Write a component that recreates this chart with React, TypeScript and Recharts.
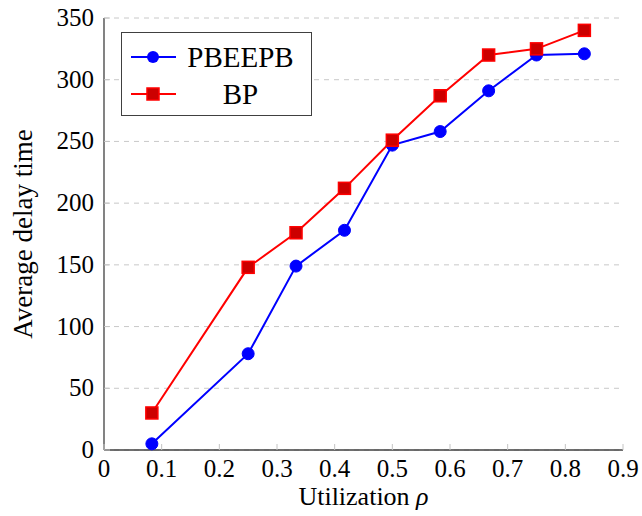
import React from 'react';
import { LineChart, Line, XAxis, YAxis, CartesianGrid, Legend } from 'recharts';

// Utilization values and average delay for each scheme
const utilization = [0.083, 0.25, 0.333, 0.417, 0.5, 0.583, 0.667, 0.75, 0.833];
const pbeepbDelay = [5, 78, 149, 178, 247, 258, 291, 320, 321];
const bpDelay = [30, 148, 176, 212, 251, 287, 320, 325, 340];
const xTicks = [0, 0.1, 0.2, 0.3, 0.4, 0.5, 0.6, 0.7, 0.8, 0.9];
const yTicks = [0, 50, 100, 150, 200, 250, 300, 350];
const seriesNames = ['PBEEPB', 'BP'];

const data = utilization.map((u, i) => ({ id: `pt-${i}`, u, pbeepb: pbeepbDelay[i], bp: bpDelay[i] }));

const FONT = 'Liberation Serif, Times New Roman, DejaVu Serif, serif';
const TICK_COLOR = '#c4c4c4';
const FRAME = '#404040';

const BottomTick = (props: any) => {
  const { x, y, payload } = props;
  return (
    <g>
      <line x1={x} y1={y} x2={x} y2={y - 6} stroke={TICK_COLOR} strokeWidth={1} />
      <text x={x} y={y + 27} textAnchor="middle" style={{ fontFamily: FONT, fontSize: 25 }} fill="#000">
        {payload.value}
      </text>
    </g>
  );
};

const LeftTick = (props: any) => {
  const { x, y, payload } = props;
  return (
    <g>
      <line x1={x} y1={y} x2={x + 6} y2={y} stroke={TICK_COLOR} strokeWidth={1} />
      <text x={x - 10} y={y + 8} textAnchor="end" style={{ fontFamily: FONT, fontSize: 25 }} fill="#000">
        {payload.value}
      </text>
    </g>
  );
};

const TopTick = (props: any) => {
  const { x, y } = props;
  return <line x1={x} y1={y} x2={x} y2={y + 6} stroke={TICK_COLOR} strokeWidth={1} />;
};

const RightTick = (props: any) => {
  const { x, y } = props;
  return <line x1={x} y1={y} x2={x - 6} y2={y} stroke={TICK_COLOR} strokeWidth={1} />;
};

const XLabel = (props: any) => {
  const { viewBox } = props;
  const cx = viewBox.x + viewBox.width / 2;
  return (
    <text x={cx} y={viewBox.y + 55} textAnchor="middle" style={{ fontFamily: FONT, fontSize: 26 }} fill="#000">
      Utilization <tspan fontStyle="italic">ρ</tspan>
    </text>
  );
};

const YLabel = (props: any) => {
  const { viewBox } = props;
  const x = viewBox.x + 32;
  const cy = viewBox.y + viewBox.height / 2;
  return (
    <text
      x={x}
      y={cy}
      transform={`rotate(-90 ${x} ${cy})`}
      textAnchor="middle"
      style={{ fontFamily: FONT, fontSize: 27 }}
      fill="#000"
    >
      Average delay time
    </text>
  );
};

const Circle = (props: any) => {
  const { cx, cy } = props;
  return <circle cx={cx} cy={cy} r={6} fill="#0000ff" stroke="#0000ff" strokeWidth={1} />;
};

const Square = (props: any) => {
  const { cx, cy } = props;
  return <rect x={cx - 6} y={cy - 6} width={12} height={12} fill="#cc0000" stroke="#ff0000" strokeWidth={1.5} />;
};

const LegendBox = () => (
  <div
    style={{
      width: 191,
      height: 84,
      boxSizing: 'border-box',
      border: `1px solid ${FRAME}`,
      background: '#fff',
      padding: '5px 0 0 8px',
      fontFamily: FONT,
      fontSize: 29,
      color: '#000',
    }}
  >
    {seriesNames.map((name, i) => (
      <div key={name} style={{ display: 'flex', alignItems: 'center', height: 37 }}>
        <svg width={48} height={20}>
          <line x1={1} y1={10} x2={46} y2={10} stroke={i === 0 ? '#0000ff' : '#ff0000'} strokeWidth={2} />
          {i === 0 ? (
            <circle cx={23} cy={10} r={6} fill="#0000ff" />
          ) : (
            <rect x={17} y={4} width={12} height={12} fill="#cc0000" stroke="#ff0000" strokeWidth={1.5} />
          )}
        </svg>
        <span style={{ width: 125, textAlign: 'center', lineHeight: '30px' }}>{name}</span>
      </div>
    ))}
  </div>
);

export default function App() {
  return (
    <div style={{ position: 'absolute', left: 0, top: 0, width: 642, height: 516, background: '#fff' }}>
      <LineChart width={642} height={516} data={data} margin={{ top: 18, right: 19, bottom: 0, left: 0 }}>
        <CartesianGrid horizontal vertical={false} stroke="#c8c8c8" strokeDasharray="5 5" />
        <XAxis
          dataKey="u"
          type="number"
          domain={[0, 0.9]}
          ticks={xTicks}
          height={66}
          tickSize={0}
          tickMargin={0}
          tickLine={false}
          axisLine={{ stroke: FRAME, strokeWidth: 1.3 }}
          tick={BottomTick}
          interval={0}
          label={<XLabel />}
        />
        <XAxis
          xAxisId="top"
          dataKey="u"
          type="number"
          orientation="top"
          domain={[0, 0.9]}
          ticks={xTicks}
          height={0}
          tickSize={0}
          tickMargin={0}
          tickLine={false}
          axisLine={{ stroke: FRAME, strokeWidth: 1.3 }}
          tick={TopTick}
          interval={0}
        />
        <YAxis
          type="number"
          domain={[0, 350]}
          ticks={yTicks}
          width={104}
          tickSize={0}
          tickMargin={0}
          tickLine={false}
          axisLine={{ stroke: FRAME, strokeWidth: 1.3 }}
          tick={LeftTick}
          interval={0}
          label={<YLabel />}
        />
        <YAxis
          yAxisId="right"
          type="number"
          orientation="right"
          domain={[0, 350]}
          ticks={yTicks}
          width={0}
          tickSize={0}
          tickMargin={0}
          tickLine={false}
          axisLine={{ stroke: FRAME, strokeWidth: 1.3 }}
          tick={RightTick}
          interval={0}
        />
        <Legend
          layout="vertical"
          align="center"
          verticalAlign="middle"
          content={LegendBox}
          wrapperStyle={{ position: 'absolute', left: 121, top: 32, width: 191, height: 84 }}
        />
        <Line
          type="linear"
          dataKey="pbeepb"
          name="PBEEPB"
          stroke="#0000ff"
          strokeWidth={2}
          dot={Circle}
          activeDot={false}
          isAnimationActive={false}
        />
        <Line
          type="linear"
          dataKey="bp"
          name="BP"
          stroke="#ff0000"
          strokeWidth={2}
          dot={Square}
          activeDot={false}
          isAnimationActive={false}
        />
      </LineChart>
    </div>
  );
}
